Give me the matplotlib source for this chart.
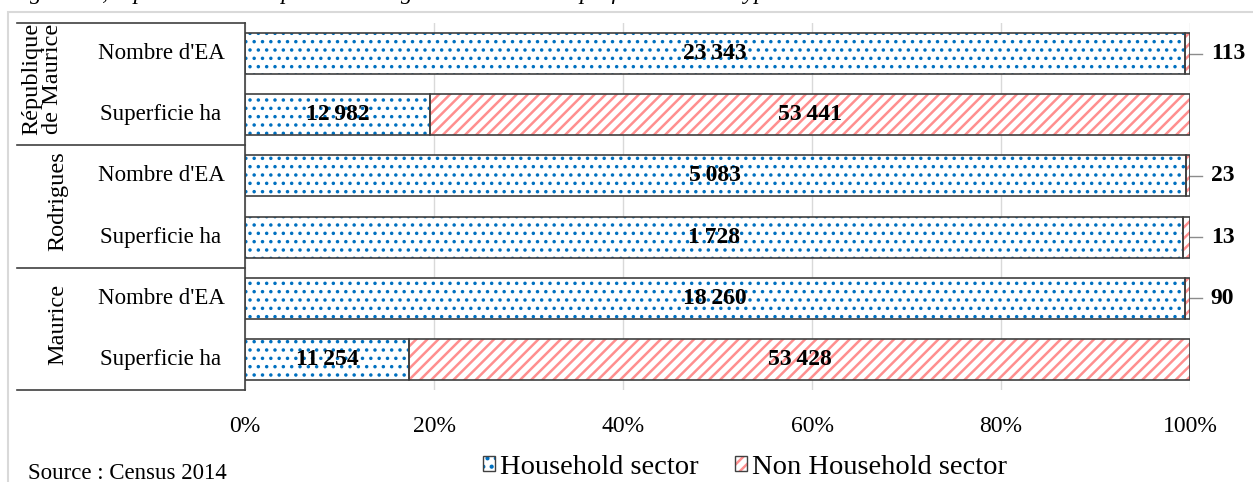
import matplotlib
matplotlib.use("Agg")
import matplotlib.pyplot as plt
import matplotlib.transforms as mtransforms
from matplotlib.lines import Line2D
from matplotlib.patches import Patch, Rectangle
from matplotlib.legend_handler import HandlerTuple
import numpy as np

plt.rcParams['font.family'] = ['Liberation Serif', 'DejaVu Serif']
plt.rcParams['hatch.linewidth'] = 1.8

# Données (Census 2014)
groupes = ["République\nde Maurice", "Rodrigues", "Maurice"]
categories = ["Nombre d'EA", "Superficie ha"] * 3
household = [23343, 12982, 5083, 1728, 18260, 11254]
non_household = [113, 53441, 23, 13, 90, 53428]
ticks_pct = [0, 20, 40, 60, 80, 100]
legende = ["Household sector", "Non Household sector"]
titre = ("Figure 12, répartition des exploitations agricoles et de la superficie "
         "selon le type de secteur")
source = "Source : Census 2014"

W, H = 1253, 482
BLEU = '#0070C0'
ROSE = '#FF8F8F'
CADRE = '#404040'
GRILLE = '#D9D9D9'


def fmt(v):
    return f"{v:,}".replace(",", "\u2009")


def epaisseur_motif(patches, lw):
    # épaisseur du motif par barre si la version le permet
    for p in patches:
        if hasattr(p, 'set_hatch_linewidth'):
            p.set_hatch_linewidth(lw)


hh = np.array(household, dtype=float)
nh = np.array(non_household, dtype=float)
p_hh = hh / (hh + nh)
p_nh = nh / (hh + nh)
ypos = np.arange(len(categories))

fig = plt.figure(figsize=(W / 100, H / 100), dpi=100)
ax = fig.add_axes([245 / W, 1 - 390 / H, 945 / W, 367 / H])

# barres : motif puis contour
h = 0.67
b1 = ax.barh(ypos, p_hh, height=h, color='white', edgecolor=BLEU, hatch='..', linewidth=0, zorder=2)
b2 = ax.barh(ypos, p_nh, left=p_hh, height=h, color='white', edgecolor=ROSE, hatch='///', linewidth=0, zorder=2)
epaisseur_motif(b1, 1.3)
epaisseur_motif(b2, 1.8)
ax.barh(ypos, p_hh, height=h, fill=False, edgecolor=CADRE, linewidth=1.2, zorder=3)
ax.barh(ypos, p_nh, left=p_hh, height=h, fill=False, edgecolor=CADRE, linewidth=1.2, zorder=3)

# étiquettes de valeurs
for y, a, b, ph, pn in zip(ypos, household, non_household, p_hh, p_nh):
    ax.text(ph / 2, y, fmt(a), ha='center', va='center', fontsize=17, fontweight='bold', zorder=4)
    if pn > 0.05:
        ax.text(ph + pn / 2, y, fmt(b), ha='center', va='center', fontsize=17, fontweight='bold', zorder=4)
    else:
        ax.plot([1.0, 1.013], [y, y], color='#8C8C8C', lw=1, clip_on=False)
        ax.text(1.022, y, fmt(b), ha='left', va='center', fontsize=17, fontweight='bold')

ax.set_xlim(0, 1)
ax.set_ylim(len(categories) - 0.5, -0.5)
ax.set_xticks(np.array(ticks_pct) / 100)
ax.set_xticklabels([f"{t}%" for t in ticks_pct])
ax.set_yticks([])
ax.tick_params(axis='x', length=0, pad=19, labelsize=17)
for s in ['top', 'right', 'bottom']:
    ax.spines[s].set_visible(False)
ax.spines['left'].set_color(CADRE)
ax.spines['left'].set_linewidth(1.2)
ax.set_axisbelow(True)
ax.grid(axis='x', color=GRILLE, lw=1)

# tableau des catégories à gauche
trans = mtransforms.blended_transform_factory(fig.transFigure, ax.transData)
for yb in [-0.5, 1.5, 3.5, 5.5]:
    fig.add_artist(Line2D([17 / W, 245 / W], [yb, yb], transform=trans, color=CADRE, lw=1.2))
for y, cat in zip(ypos, categories):
    ax.text(161 / W, y, cat, transform=trans, ha='center', va='center', fontsize=16.5)
for i, g in enumerate(groupes):
    xg = 42 if "\n" in g else 58
    ax.text(xg / W, 2 * i + 0.5 - 0.08, g, transform=trans, rotation=90, ha='center', va='center',
            multialignment='center', fontsize=17.5, linespacing=0.95)

# légende
hdl = []
for col, hat in [(BLEU, '..'), (ROSE, '///')]:
    hdl.append((Patch(facecolor='white', edgecolor=col, hatch=hat, linewidth=0),
                Patch(fill=False, edgecolor=CADRE, linewidth=1.0)))
fig.legend(hdl, legende, loc='center', bbox_to_anchor=(745 / W, 1 - 467 / H), ncol=2,
           frameon=False, fontsize=20.5, handlelength=0.42, handleheight=0.42,
           handletextpad=0.2, columnspacing=1.25, borderpad=0, borderaxespad=0,
           handler_map={tuple: HandlerTuple(ndivide=1)})

# titre coupé, source et cadre
fig.text(9 / W, 1 + 1.5 / H, titre, style='italic', fontsize=17, va='baseline')
fig.text(28 / W, 1 - 479 / H, source, fontsize=16.5, va='baseline')
fig.add_artist(Rectangle((8 / W, -0.1), 1.2, 1 - 12 / H + 0.1, transform=fig.transFigure,
                         fill=False, ec=GRILLE, lw=1.5))

fig.savefig("out.png", dpi=100)
